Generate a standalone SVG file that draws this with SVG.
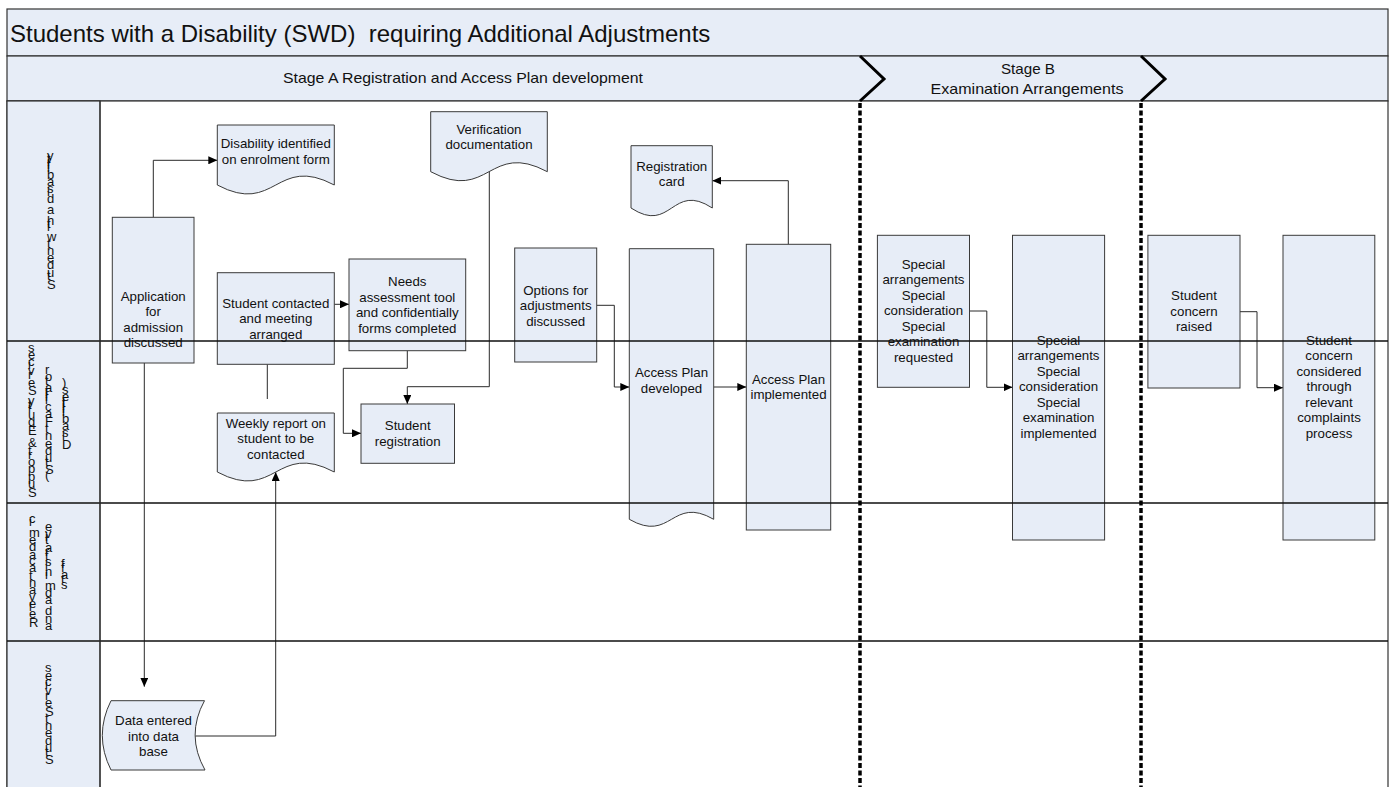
<svg xmlns="http://www.w3.org/2000/svg" width="1390" height="787" viewBox="0 0 1390 787">
<style>
  .band { fill: #E7EDF7; stroke: #333; stroke-width: 1.2; }
  .node { fill: #E7EDF7; stroke: #3a3a3a; stroke-width: 1; }
  .t { font-family: "Liberation Sans", Arial, sans-serif; font-size: 13.3px; fill: #111; text-anchor: middle; }
  .lane { font-family: "Liberation Sans", Arial, sans-serif; font-size: 13px; fill: #111; text-anchor: middle; }
  .hdr { font-family: "Liberation Sans", Arial, sans-serif; font-size: 15px; fill: #111; text-anchor: middle; }
  .conn { fill: none; stroke: #2a2a2a; stroke-width: 1; }
  .sep { stroke: #111; stroke-width: 1.5; fill: none; }
  .phase { stroke: #000; stroke-width: 3.5; stroke-dasharray: 5 2.5; fill: none; }
  .chev { stroke: #000; stroke-width: 3; fill: none; }
</style>
<defs>
  <marker id="arr" markerUnits="userSpaceOnUse" markerWidth="10" markerHeight="8" refX="9" refY="4" orient="auto">
    <path d="M0,0 L9,4 L0,8 Z" fill="#000"/>
  </marker>
</defs>
<rect x="0" y="0" width="1390" height="787" fill="#fff"/>

<g id="frame">
  <rect class="band" x="7" y="9" width="1381" height="47"/>
  <rect class="band" x="7" y="56" width="1381" height="45"/>
  <rect x="7" y="101" width="1381" height="700" fill="#fff" stroke="#333" stroke-width="1.2"/>
  <rect class="band" x="7" y="101" width="93" height="700"/>
  <text x="10" y="42" style="font-family:'Liberation Sans',Arial,sans-serif;font-size:24px;fill:#111;white-space:pre" xml:space="preserve">Students with a Disability (SWD)  requiring Additional Adjustments</text>
  <text class="hdr" x="463" y="82.5" textLength="360" lengthAdjust="spacingAndGlyphs">Stage A Registration and Access Plan development</text>
  <text class="hdr" x="1028" y="74" textLength="54" lengthAdjust="spacingAndGlyphs">Stage B</text>
  <text class="hdr" x="1027" y="94" textLength="193" lengthAdjust="spacingAndGlyphs">Examination Arrangements</text>
  <path class="chev" d="M860,56 L884,79 L860,101"/>
  <path class="chev" d="M1141,56 L1165,79 L1141,101"/>
</g>

<g id="lane-labels">
  <text class="lane" transform="rotate(-90)" x="-221" y="47" rotate="90">Student with a disability</text>
  <text class="lane" transform="rotate(-90)" x="-421" y="28" rotate="90">Support &amp; Equity Services</text>
  <text class="lane" transform="rotate(-90)" x="-424" y="45" rotate="90">(Student Facilitator</text>
  <text class="lane" transform="rotate(-90)" x="-416" y="62" rotate="90">Disabilities)</text>
  <text class="lane" transform="rotate(-90)" x="-572" y="29" rotate="90">Relevant academic</text>
  <text class="lane" transform="rotate(-90)" x="-577" y="45" rotate="90">and administrative</text>
  <text class="lane" transform="rotate(-90)" x="-577" y="61" rotate="90">staff</text>
  <text class="lane" transform="rotate(-90)" x="-715" y="45" rotate="90">Student Services</text>
</g>

<g id="connectors">
  <path class="conn" d="M153.3,217.3 V160.3 H217.3" marker-end="url(#arr)"/>
  <path class="conn" d="M334.3,304.3 H349" marker-end="url(#arr)"/>
  <path class="conn" d="M267.3,364.3 V399"/>
  <path class="conn" d="M407.3,350.7 V368.3 H343.3 V433.3 H361" marker-end="url(#arr)"/>
  <path class="conn" d="M489.3,171.7 V386.7 H407.3 V404" marker-end="url(#arr)"/>
  <path class="conn" d="M596.7,305.3 H614.3 V387 H629.3" marker-end="url(#arr)"/>
  <path class="conn" d="M713.7,387 H746.3" marker-end="url(#arr)"/>
  <path class="conn" d="M788.3,244.3 V180.7 H712.3" marker-end="url(#arr)"/>
  <path class="conn" d="M144.3,363 V686.7" marker-end="url(#arr)"/>
  <path class="conn" d="M195,736 H275.7 V472" marker-end="url(#arr)"/>
  <path class="conn" d="M969.5,311 H986.8 V387.3 H1012.5" marker-end="url(#arr)"/>
  <path class="conn" d="M1240,311.7 H1257 V387.7 H1283" marker-end="url(#arr)"/>
</g>

<g id="n-disability-form">
  <path class="node" d="M217.3,125 H334.3 V185 C275.8,154 275.8,216 217.3,185 Z"/>
  <text class="t" x="275.8" y="148.2">Disability identified</text>
  <text class="t" x="275.8" y="163.8">on enrolment form</text>
</g>
<g id="n-application">
  <rect class="node" x="112.3" y="217.3" width="81.7" height="145.7"/>
  <text class="t" x="153.2" y="300.5">Application</text>
  <text class="t" x="153.2" y="316">for</text>
  <text class="t" x="153.2" y="331.5">admission</text>
  <text class="t" x="153.2" y="347">discussed</text>
</g>
<g id="n-student-contacted">
  <rect class="node" x="217.3" y="272.7" width="117" height="91.6"/>
  <text class="t" x="275.8" y="307.8">Student contacted</text>
  <text class="t" x="275.8" y="323.3">and meeting</text>
  <text class="t" x="275.8" y="338.8">arranged</text>
</g>
<g id="n-needs">
  <rect class="node" x="349" y="259" width="116.7" height="91.7"/>
  <text class="t" x="407.3" y="286.2">Needs</text>
  <text class="t" x="407.3" y="301.7">assessment tool</text>
  <text class="t" x="407.3" y="317.2">and confidentially</text>
  <text class="t" x="407.3" y="332.7">forms completed</text>
</g>
<g id="n-weekly-report">
  <path class="node" d="M217.3,413 H334.3 V472 C275.8,441 275.8,503 217.3,472 Z"/>
  <text class="t" x="275.8" y="427.8">Weekly report on</text>
  <text class="t" x="275.8" y="443.3">student to be</text>
  <text class="t" x="275.8" y="458.8">contacted</text>
</g>
<g id="n-student-registration">
  <rect class="node" x="361" y="404" width="93.5" height="59.3"/>
  <text class="t" x="407.7" y="430.2">Student</text>
  <text class="t" x="407.7" y="445.7">registration</text>
</g>
<g id="n-verification">
  <path class="node" d="M430.7,111.7 H547.3 V171.7 C489,140.5 489,202.9 430.7,171.7 Z"/>
  <text class="t" x="489" y="133.8">Verification</text>
  <text class="t" x="489" y="149.3">documentation</text>
</g>
<g id="n-registration-card">
  <path class="node" d="M631,145.7 H712.3 V208 C671.7,181.3 671.7,234.7 631,208 Z"/>
  <text class="t" x="671.7" y="171.2">Registration</text>
  <text class="t" x="671.7" y="186">card</text>
</g>
<g id="n-options">
  <rect class="node" x="514.7" y="248" width="82" height="114"/>
  <text class="t" x="555.7" y="294.5">Options for</text>
  <text class="t" x="555.7" y="310">adjustments</text>
  <text class="t" x="555.7" y="325.5">discussed</text>
</g>
<g id="n-access-developed">
  <path class="node" d="M629.3,248.7 H713.7 V519.3 C671.5,495 671.5,543.6 629.3,519.3 Z"/>
  <text class="t" x="671.5" y="377.2">Access Plan</text>
  <text class="t" x="671.5" y="392.7">developed</text>
</g>
<g id="n-access-implemented">
  <rect class="node" x="746.3" y="244.3" width="84.4" height="285.7"/>
  <text class="t" x="788.5" y="383.8">Access Plan</text>
  <text class="t" x="788.5" y="399.3">implemented</text>
</g>
<g id="n-special-requested">
  <rect class="node" x="877.4" y="235.3" width="92.1" height="152"/>
  <text class="t" x="923.5" y="268.8">Special</text>
  <text class="t" x="923.5" y="284.3">arrangements</text>
  <text class="t" x="923.5" y="299.8">Special</text>
  <text class="t" x="923.5" y="315.3">consideration</text>
  <text class="t" x="923.5" y="330.8">Special</text>
  <text class="t" x="923.5" y="346.3">examination</text>
  <text class="t" x="923.5" y="361.8">requested</text>
</g>
<g id="n-special-implemented">
  <rect class="node" x="1012.5" y="235.3" width="92.1" height="304.7"/>
  <text class="t" x="1058.5" y="344.5">Special</text>
  <text class="t" x="1058.5" y="360">arrangements</text>
  <text class="t" x="1058.5" y="375.5">Special</text>
  <text class="t" x="1058.5" y="391">consideration</text>
  <text class="t" x="1058.5" y="406.5">Special</text>
  <text class="t" x="1058.5" y="422">examination</text>
  <text class="t" x="1058.5" y="437.5">implemented</text>
</g>
<g id="n-concern-raised">
  <rect class="node" x="1147.9" y="235.3" width="92.1" height="152.7"/>
  <text class="t" x="1194" y="300.2">Student</text>
  <text class="t" x="1194" y="315.7">concern</text>
  <text class="t" x="1194" y="331.2">raised</text>
</g>
<g id="n-concern-considered">
  <rect class="node" x="1283" y="235.3" width="91.8" height="304.7"/>
  <text class="t" x="1329" y="344.5">Student</text>
  <text class="t" x="1329" y="360">concern</text>
  <text class="t" x="1329" y="375.5">considered</text>
  <text class="t" x="1329" y="391">through</text>
  <text class="t" x="1329" y="406.5">relevant</text>
  <text class="t" x="1329" y="422">complaints</text>
  <text class="t" x="1329" y="437.5">process</text>
</g>
<g id="n-data-entered">
  <path class="node" d="M111,700.7 H204.5 Q185.5,735.3 205,770 H111 Q93.6,735.3 111,700.7 Z"/>
  <text class="t" x="153.5" y="725.2">Data entered</text>
  <text class="t" x="153.5" y="740.5">into data</text>
  <text class="t" x="153.5" y="755.8">base</text>
</g>

<g id="lane-separators">
  <path class="sep" d="M7,341 H1388 M7,503 H1388 M7,641 H1388"/>
  <path d="M100,101 V787" stroke="#333" stroke-width="1.2"/>
</g>
<g id="phase-separators">
  <path class="phase" d="M860,103 V787"/>
  <path class="phase" d="M1141,103 V787"/>
</g>
</svg>
